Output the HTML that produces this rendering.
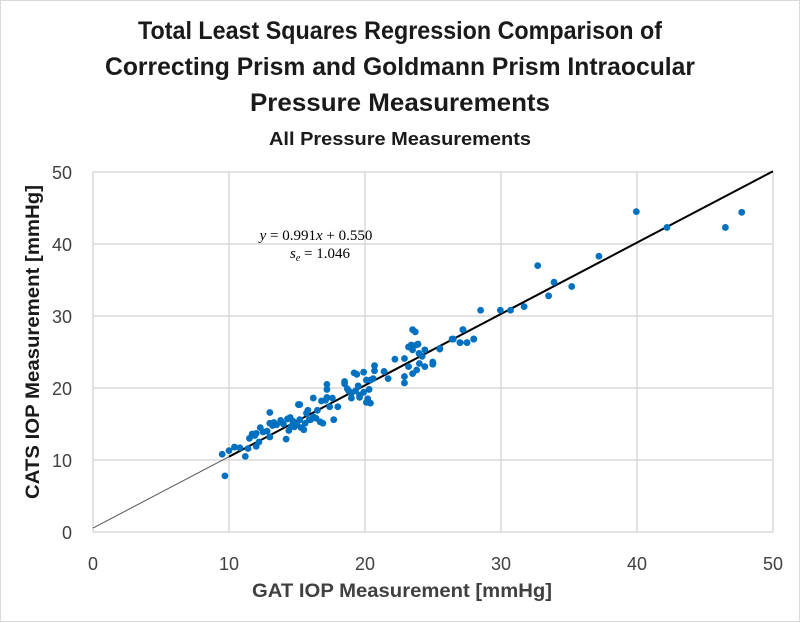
<!DOCTYPE html>
<html><head><meta charset="utf-8"><style>
html,body{margin:0;padding:0;background:#fff;}
svg{display:block;font-family:"Liberation Sans",sans-serif;}
</style></head><body>
<svg id="chart" width="800" height="623" viewBox="0 0 800 623" xmlns="http://www.w3.org/2000/svg">
<rect x="0.5" y="0.5" width="799" height="621" fill="#fff" stroke="#d9d9d9"/>
<g font-weight="bold" font-size="25" fill="#1a1a1a" text-anchor="middle">
<text x="400" y="39" textLength="524" lengthAdjust="spacingAndGlyphs">Total Least Squares Regression Comparison of</text>
<text x="400" y="75" textLength="590" lengthAdjust="spacingAndGlyphs">Correcting Prism and Goldmann Prism Intraocular</text>
<text x="400" y="111" textLength="300" lengthAdjust="spacingAndGlyphs">Pressure Measurements</text>
</g>
<text x="400" y="145" font-size="18" font-weight="bold" text-anchor="middle" fill="#1a1a1a" textLength="262" lengthAdjust="spacingAndGlyphs">All Pressure Measurements</text>
<g id="grid"></g><g id="ticks"></g><g id="line"></g><g id="pts"></g>
<g font-family="'Liberation Serif',serif" font-size="15" fill="#000" text-anchor="middle">
<text x="316" y="240"><tspan font-style="italic">y</tspan> = 0.991<tspan font-style="italic">x</tspan> + 0.550</text>
<text x="320" y="258"><tspan font-style="italic">s<tspan font-size="10" dy="3">e</tspan></tspan><tspan dy="-3"> = 1.046</tspan></text>
</g>
<text x="402" y="597" font-size="19" font-weight="bold" text-anchor="middle" fill="#404040" textLength="300" lengthAdjust="spacingAndGlyphs">GAT IOP Measurement [mmHg]</text>
<text transform="translate(39,342) rotate(-90)" font-size="19" font-weight="bold" text-anchor="middle" fill="#1a1a1a" textLength="314" lengthAdjust="spacingAndGlyphs">CATS IOP Measurement [mmHg]</text>
</svg>
<script>
const xTicks=[0,10,20,30,40,50];
const yTicks=[0,10,20,30,40,50];
const gatValues=[39.95,42.2,46.5,47.7,37.2,32.7,33.9,35.2,33.5,31.7,30.7,29.95,28.5,28.0,27.5,27.0,27.2,26.5,25.5,25.0,23.5,23.7,23.9,24.4,23.3,23.2,23.4,23.5,23.2,23.8,24.0,24.2,23.97,24.4,24.98,24.98,25.5,26.4,26.98,27.2,27.5,27.99,23.5,23.8,
9.7,9.5,10.0,10.4,10.8,11.2,11.4,11.5,11.7,12.0,11.9,12.0,12.2,12.3,12.8,13.0,13.3,13.5,13.0,13.0,13.8,14.2,14.3,14.5,14.4,14.7,15.0,15.2,15.1,15.2,15.5,15.6,15.7,15.9,16.2,16.4,16.7,16.2,16.5,16.9,16.8,17.1,17.2,17.2,17.2,17.4,17.7,18.0,17.6,18.5,18.5,18.7,19.0,19.0,19.3,19.6,19.6,19.9,20.2,20.3,20.1,20.4,19.2,19.4,19.9,20.1,20.4,20.6,20.7,20.7,21.4,21.7,22.2,22.9,22.9,22.9,13.2,14.0,14.8,15.3,16.0,18.8,19.5,12.5,14.6,15.8];
const catsValues=[44.5,42.3,42.3,44.4,38.3,37.0,34.7,34.1,32.8,31.3,30.8,30.8,30.8,26.8,26.3,26.3,28.1,26.8,25.5,23.4,28.1,27.8,26.1,25.3,25.7,25.7,25.97,25.3,22.97,22.5,23.4,24.4,24.8,22.97,23.6,23.3,25.4,26.8,26.3,28.1,26.3,26.8,22.0,26.0,
7.8,10.8,11.3,11.8,11.7,10.5,11.6,13.0,13.6,13.7,13.4,11.9,12.5,14.5,14.0,15.1,15.2,14.9,16.6,13.2,15.5,12.9,15.7,15.9,14.1,15.4,14.9,15.6,17.7,17.7,14.2,15.1,16.5,15.6,16.0,15.8,15.3,18.6,16.9,15.1,18.2,18.3,18.7,20.5,19.8,17.4,15.6,17.4,18.6,20.9,20.6,19.9,19.3,18.6,19.6,19.0,18.7,19.4,18.5,19.8,18.0,17.9,22.1,21.9,22.2,21.1,21.1,21.3,23.1,22.4,22.3,21.3,24.0,24.1,21.6,20.7,14.8,15.0,14.6,14.5,15.6,19.6,20.3,13.9,14.7,16.9];
const slope=0.991, intercept=0.550;
const X=v=>93+v*13.6, Y=v=>532-v*7.2;
const NS="http://www.w3.org/2000/svg";
function mk(t,a,p){const e=document.createElementNS(NS,t);for(const k in a)e.setAttribute(k,a[k]);p.appendChild(e);return e;}
const grid=document.getElementById('grid'),ticks=document.getElementById('ticks');
xTicks.forEach(v=>{
 const g=mk('line',{x1:X(v),x2:X(v),y1:Y(50),y2:Y(0),stroke:'#d9d9d9','stroke-width':1.5},grid);
 
 
 const t=mk('text',{x:X(v),y:570,'font-size':18,'text-anchor':'middle',fill:'#404040'},ticks);t.textContent=v;
 
 
});
yTicks.forEach(v=>{
 const g=mk('line',{x1:X(0),x2:X(50),y1:Y(v),y2:Y(v),stroke:'#d9d9d9','stroke-width':1.5},grid);
 
 
 const t=mk('text',{x:72,y:Y(v)+7,'font-size':18,'text-anchor':'end',fill:'#404040'},ticks);t.textContent=v;
 
 
});
const lg=document.getElementById('line');
const l1=mk('line',{x1:X(0),y1:Y(intercept),x2:X(10),y2:Y(slope*10+intercept),stroke:'#555','stroke-width':1},lg);


const l2=mk('line',{x1:X(10),y1:Y(slope*10+intercept),x2:X(50),y2:Y(slope*50+intercept),stroke:'#000','stroke-width':2},lg);


const pg=document.getElementById('pts');
gatValues.forEach((g,i)=>{
 const c=mk('circle',{cx:X(g),cy:Y(catsValues[i]),r:3.4,fill:'#0070c0'},pg);
 
 
});
</script>
</body></html>
